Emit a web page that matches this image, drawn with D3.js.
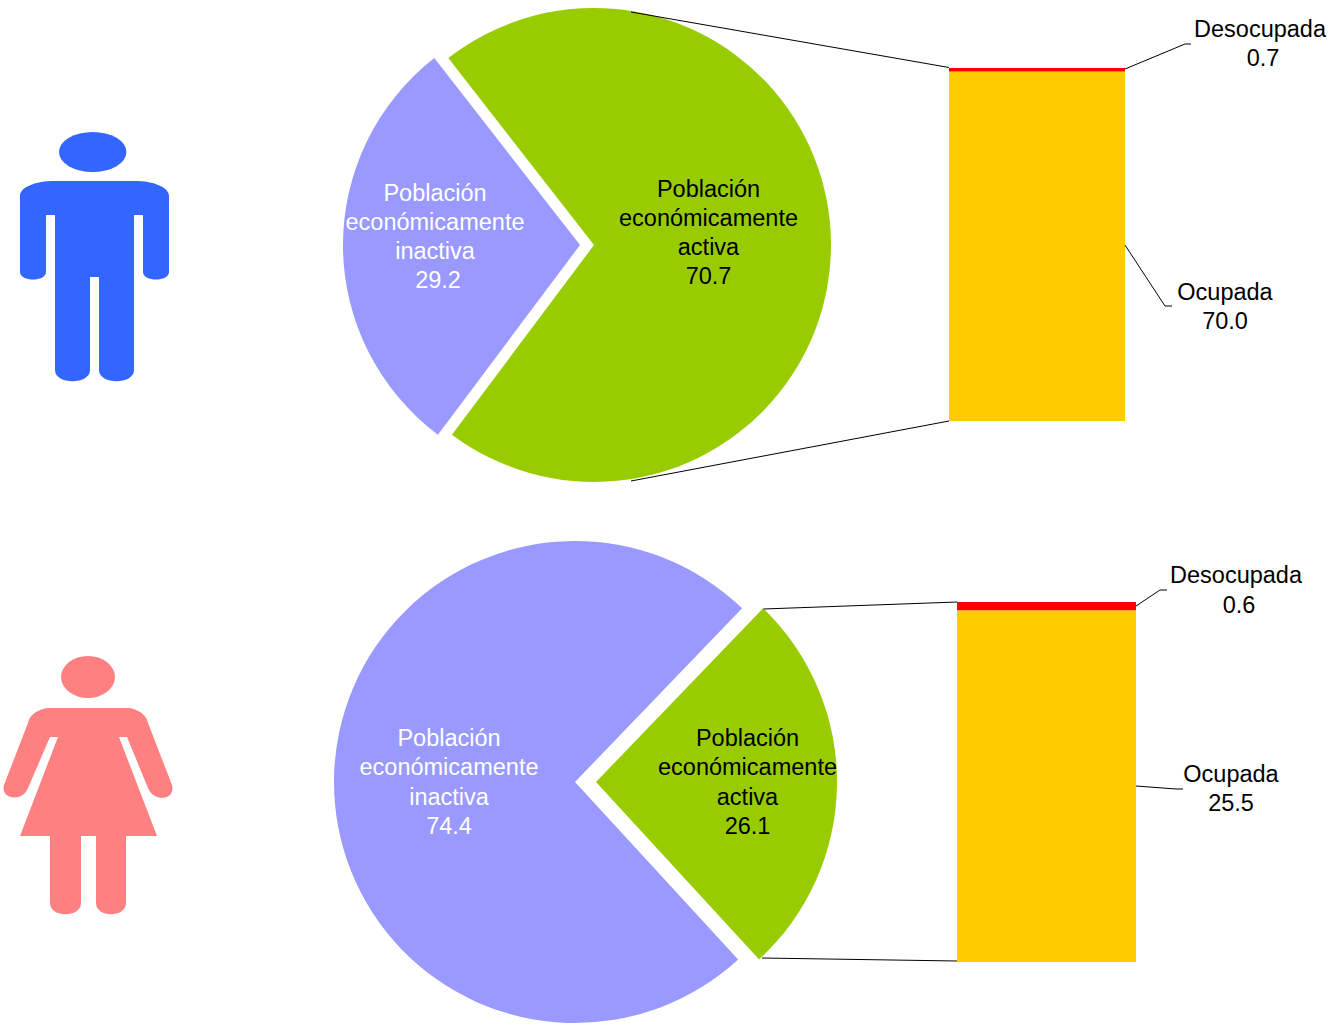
<!DOCTYPE html>
<html><head><meta charset="utf-8">
<script src="https://d3js.org/d3.v7.min.js"></script>
<style>html,body{margin:0;padding:0;background:#fff}svg{display:block}text{font-family:"Liberation Sans",Arial,sans-serif;font-size:23.5px}</style>
</head><body><svg id="c" width="1332" height="1025"></svg>
<script>
// Data
const pieCategories = ["Población económicamente activa", "Población económicamente inactiva"];
const hombresPie = [70.7, 29.2];
const mujeresPie = [26.1, 74.4];
const barCategories = ["Ocupada", "Desocupada"];
const hombresBar = [70.0, 0.7];
const mujeresBar = [25.5, 0.6];

// Styles and layout
const colPie = ["#99CC00", "#9999FF"], colBar = ["#FFCC00", "#FF0000"];
const panels = [
  {pie: hombresPie, bar: hombresBar, r: 237, cy: 245, ax: 594, ix: 580, rot: -0.55, bx: [949,1125], by: [421,68],
   link: [[[631,12],[949,67.5]], [[631,481],[949,421]]],
   leaders: [[[1125,245],[1165,306],[1172,306]], [[1125,69],[1185,44],[1191,44]]],
   pieLabels: [{x:708.5, y:[189,218,247,276], dx:[0,0,0,0]}, {x:435, y:[193,222,251,280], dx:[0,0,0,3]}],
   barLabels: [{x:1225, y:[292,321], dx:[0,0]}, {x:1260, y:[29,58], dx:[0,3]}]},
  {pie: mujeresPie, bar: mujeresBar, r: 241, cy: 782, ax: 596, ix: 575, rot: 0.65, bx: [957,1136], by: [962,602],
   link: [[[763.5,609],[957,602]], [[762,958],[957,961]]],
   leaders: [[[1136,786],[1176,789],[1183,789]], [[1136,606],[1160,590],[1167,590]]],
   pieLabels: [{x:747.5, y:[738,767,797,826], dx:[0,0,0,0]}, {x:449, y:[738,767,797,826], dx:[0,0,0,0]}],
   barLabels: [{x:1231, y:[774,803], dx:[0,0]}, {x:1236, y:[575,605], dx:[0,3]}]}
];
const svg = d3.select("#c");
const line = d3.line();

panels.forEach(p => {
  const frac = p.pie[0] / d3.sum(p.pie);
  const start = Math.PI/2 - frac*Math.PI + p.rot*Math.PI/180;
  const arcs = d3.pie().sort(null).startAngle(start).endAngle(start + 2*Math.PI)(p.pie);
  const arc = d3.arc().innerRadius(0).outerRadius(p.r);
  svg.append("g").selectAll("path").data(arcs).join("path")
    .attr("d", arc).attr("fill", (d,i)=>colPie[i])
    .attr("transform", (d,i)=>`translate(${i===0?p.ax:p.ix},${p.cy})`);

  const y = d3.scaleLinear().domain([0, d3.sum(p.bar)]).range(p.by);
  const stack = d3.stack().keys([0,1])([p.bar]);
  svg.append("g").selectAll("rect").data(stack).join("rect")
    .attr("x", p.bx[0]).attr("width", p.bx[1]-p.bx[0])
    .attr("y", d=>y(d[0][1])).attr("height", d=>y(d[0][0])-y(d[0][1]))
    .attr("fill", (d,i)=>colBar[i]);

  [...p.link, ...p.leaders].forEach(l => svg.append("path").attr("d", line(l))
    .attr("fill","none").attr("stroke","#000").attr("stroke-width",1));

  const words = ["Población","económicamente"];
  [["activa",p.pie[0],"#000"],["inactiva",p.pie[1],"#fff"]].forEach((e,i)=>{
    const L = p.pieLabels[i];
    const lines = [...words, e[0], e[1].toFixed(1)];
    const t = svg.append("text").attr("text-anchor","middle").attr("fill",e[2]);
    lines.forEach((s,k)=>t.append("tspan").attr("x",L.x+L.dx[k]).attr("y",L.y[k]).attr("dy","0.35em").text(s));
  });
  barCategories.forEach((c,i)=>{
    const L = p.barLabels[i];
    const t = svg.append("text").attr("text-anchor","middle").attr("fill","#000");
    [c,p.bar[i].toFixed(1)].forEach((s,k)=>t.append("tspan").attr("x",L.x+L.dx[k]).attr("y",L.y[k]).attr("dy","0.35em").text(s));
  });
});

// Pictograms
const man = svg.append("g").attr("fill","#3366FF");
man.append("ellipse").attr("cx",92.7).attr("cy",152).attr("rx",33.7).attr("ry",20);
man.append("path").attr("d","M20,196 C20,187 36,181 54,181 L135,181 C153,181 169,187 169,196 L169,272 C169,282 143,282 143,272 L143,215 L134,215 L134,370 C134,385 99,385 99,370 L99,277 L90,277 L90,370 C90,385 55,385 55,370 L55,215 L46,215 L46,272 C46,282 20,282 20,272 Z");
const woman = svg.append("g").attr("fill","#FF8080");
woman.append("ellipse").attr("cx",88).attr("cy",677).attr("rx",27).attr("ry",21);
woman.append("path").attr("d","M50,708 L127,708 C137,708 147,715 148,723 L172,785 C176,801 153,802 148,788 L127,737 L119,737 L157,836 L126,836 L126,903 C126,918 96,918 96,903 L96,836 L81,836 L81,903 C81,918 50,918 50,903 L50,836 L20,836 L58,737 L50,737 L28,788 C23,802 0,800 4,785 L28,723 C29,715 39,708 50,708 Z");
</script></body></html>
